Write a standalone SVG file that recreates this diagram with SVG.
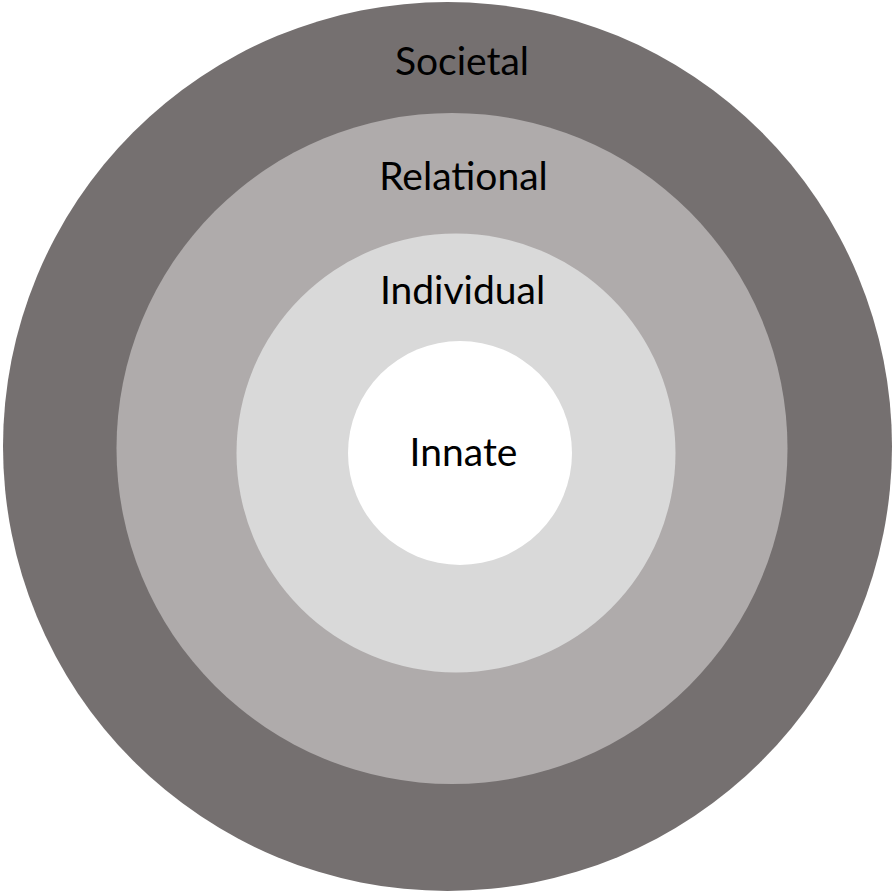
<svg xmlns="http://www.w3.org/2000/svg" width="896" height="893" viewBox="0 0 896 893">
<style>
.lbl{font-family:"Lato","Liberation Sans",sans-serif;font-size:39px;fill:#000;text-anchor:middle}
</style>
<rect width="896" height="893" fill="#fff"/>
<g id="societal"><circle cx="447.5" cy="446.5" r="444.5" fill="#757070"/><text class="lbl" x="462" y="75">Societal</text></g>
<g id="relational"><circle cx="452" cy="448.5" r="335.5" fill="#AFABAB"/><text class="lbl" x="463.5" y="190">Relational</text></g>
<g id="individual"><circle cx="456" cy="453" r="219.5" fill="#D9D9D9"/><text class="lbl" x="462.5" y="304">Individual</text></g>
<g id="innate"><circle cx="460" cy="453" r="112" fill="#FFFFFF"/><text class="lbl" x="463.5" y="466">Innate</text></g>
<g id="connectors"/>
</svg>
